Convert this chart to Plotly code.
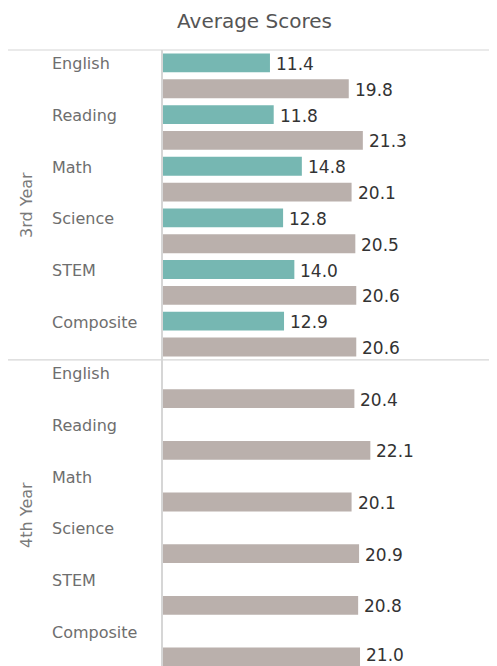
import plotly.graph_objects as go

# ---- data ----
years = ["3rd Year", "4th Year"]
subjects = ["English", "Reading", "Math", "Science", "STEM", "Composite"]
third_first = [11.4, 11.8, 14.8, 12.8, 14.0, 12.9]
third_second = [19.8, 21.3, 20.1, 20.5, 20.6, 20.6]
fourth_first = [None, None, None, None, None, None]
fourth_second = [20.4, 22.1, 20.1, 20.9, 20.8, 21.0]

first_by_year = {"3rd Year": third_first, "4th Year": fourth_first}
second_by_year = {"3rd Year": third_second, "4th Year": fourth_second}

TEAL = "#76b7b2"
GRAY = "#bab0ac"
LINE = "#d6d6d6"
FONT = "DejaVu Sans"

# page body has an 8px default margin; size the figure to fill the window
OFF = 8
W, H = 497 - OFF, 666 - OFF
L_MARGIN, T_MARGIN = 163 - OFF, 50 - OFF

slots = []
ya, xa, yb, xb = [], [], [], []
for yr in years:
    for s, va, vb in zip(subjects, first_by_year[yr], second_by_year[yr]):
        ca = f"{yr}|{s}|a"
        cb = f"{yr}|{s}|b"
        slots += [ca, cb]
        ya.append(ca); xa.append(va)
        yb.append(cb); xb.append(vb)

y_top = -0.5
y_bottom = 23.35  # view cut slightly before the last slot ends

fig = go.Figure()
for yy, xx, col in [(ya, xa, TEAL), (yb, xb, GRAY)]:
    fig.add_trace(go.Bar(
        y=yy, x=xx, orientation="h", marker=dict(color=col, line=dict(width=0)),
        width=0.73, cliponaxis=False,
        hoverinfo="skip", showlegend=False,
    ))

plot_w = W - L_MARGIN
def px_to_paper_x(px):
    return (px - OFF - L_MARGIN) / plot_w

annotations = []
# value labels (the last one is nudged up to stay inside the view)
last_slot = slots[-1]
for yy, xx in [(ya, xa), (yb, xb)]:
    for c, v in zip(yy, xx):
        if v is None:
            continue
        annotations.append(dict(
            x=v, xref="x", y=c, yref="y", xanchor="left", yanchor="middle",
            xshift=4, yshift=2 if c == last_slot else -1,
            text=f"{v:.1f}", showarrow=False,
            font=dict(family=FONT, size=17, color="#333333"),
        ))
for yr in years:
    for s in subjects:
        annotations.append(dict(
            x=px_to_paper_x(50), xref="paper", xanchor="left",
            y=f"{yr}|{s}|a", yref="y", yanchor="middle", yshift=-1,
            text=s, showarrow=False,
            font=dict(family=FONT, size=16, color="#6e6e6e"),
        ))
for i, yr in enumerate(years):
    mid = i * 12 + 5.5
    annotations.append(dict(
        x=px_to_paper_x(27), xref="paper", xanchor="center",
        y=mid, yref="y", yanchor="middle", textangle=-90,
        text=yr, showarrow=False,
        font=dict(family=FONT, size=16, color="#7a7a7a"),
    ))

sep_paper_y = 1 - (11.5 - y_top) / (y_bottom - y_top)
shapes = [
    dict(type="line", xref="paper", yref="paper", x0=px_to_paper_x(OFF), x1=1,
         y0=1, y1=1, line=dict(color=LINE, width=1.2)),
    dict(type="line", xref="paper", yref="paper", x0=px_to_paper_x(OFF), x1=1,
         y0=sep_paper_y, y1=sep_paper_y, line=dict(color=LINE, width=1.2)),
]

fig.update_layout(
    width=W, height=H,
    margin=dict(l=L_MARGIN, r=0, t=T_MARGIN, b=0, pad=0),
    paper_bgcolor="white", plot_bgcolor="white",
    barmode="overlay",
    title=dict(text="Average Scores", x=(254.5 - OFF) / W, xref="container", xanchor="center",
               y=1 - (20.5 - OFF) / H, yref="container", yanchor="middle",
               font=dict(family=FONT, size=20, color="#555555")),
    xaxis=dict(range=[0, 35.6], showgrid=False, zeroline=False, showticklabels=False,
               ticks="", showline=False),
    yaxis=dict(type="category", categoryorder="array", categoryarray=slots,
               range=[y_bottom, y_top], showgrid=False, zeroline=False,
               showticklabels=False, ticks="", showline=True, linecolor=LINE, linewidth=1.5),
    annotations=annotations, shapes=shapes,
    font=dict(family=FONT),
)

fig.write_html("out.html")
